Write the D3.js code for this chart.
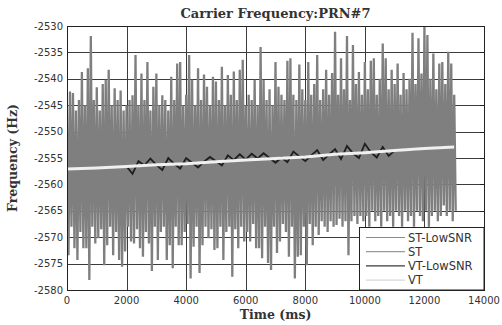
<!DOCTYPE html>
<html lang="en">
    <head>
        <title>Carrier Frequency PRN#7</title>
        <meta charset="utf-8">
        <script src="https://d3js.org/d3.v7.min.js"></script>
        <style>
            * {
                margin: 0;
                padding: 0;
            }
            body {
                background-color: white;
                width: 502px;
                height: 325px;
                overflow: hidden;
            }
        </style>
    </head>
    <body>
        <main></main>
        <script>

            // ticks
            const xTicks = [0, 2000, 4000, 6000, 8000, 10000, 12000, 14000];
            const yTicks = [-2580, -2575, -2570, -2565, -2560, -2555, -2550, -2545, -2540, -2535, -2530];

            // ST-LowSNR, read as upper / lower peak per 100 ms bin (0 .. 13000 ms)
            const stLowSnrHigh = [
                -2545, -2542.4, -2542.7, -2546, -2544, -2538.7, -2545, -2538, -2531.9, -2544,
                -2541.6, -2546, -2541, -2540.2, -2538.3, -2545, -2541.8, -2544, -2542.2, -2546,
                -2545, -2544, -2543.1, -2535.5, -2545, -2539, -2544, -2536.8, -2546, -2541.5,
                -2539, -2545, -2543.1, -2544, -2546, -2539.6, -2544, -2537.1, -2536.8, -2545,
                -2543, -2535.5, -2540.2, -2545, -2538, -2544, -2539.2, -2541.5, -2545, -2539.6,
                -2540.5, -2544, -2537.7, -2545, -2539.3, -2543, -2538.6, -2544, -2538.3, -2536.4,
                -2545, -2543, -2544, -2540.2, -2545, -2534, -2540.2, -2544, -2542, -2545,
                -2536.8, -2541.5, -2543, -2544, -2536.6, -2536.1, -2543, -2544, -2537.3, -2542,
                -2544, -2536.8, -2543, -2541, -2535.5, -2544, -2542, -2538.3, -2543, -2538.9,
                -2531.1, -2543, -2536.1, -2542, -2531.9, -2544, -2533.6, -2541, -2538.7, -2543,
                -2536.8, -2542, -2536.6, -2536.1, -2543, -2540, -2533.3, -2536.1, -2542, -2538.3,
                -2541, -2537.1, -2543, -2538.9, -2542, -2540, -2531.3, -2541, -2532.3, -2539,
                -2530.1, -2531.7, -2540, -2535.2, -2542, -2537.1, -2536.8, -2541, -2534.9, -2537.1,
                -2543
            ];
            const stLowSnrLow = [
                -2573.4, -2568, -2572.1, -2574.3, -2569, -2572.1, -2572.1, -2578.1, -2568, -2571.2,
                -2570.2, -2568.5, -2575.3, -2571.5, -2568, -2573.4, -2569, -2574.3, -2575.6, -2572.7,
                -2568, -2570.8, -2571.2, -2568.5, -2572.1, -2573.7, -2569, -2571.2, -2576.4, -2568,
                -2574.3, -2569, -2568, -2574.3, -2571.5, -2575.9, -2568, -2571.5, -2571.5, -2569,
                -2567.5, -2577.8, -2571.8, -2568, -2576.8, -2571.5, -2568, -2570.2, -2568.5, -2572.4,
                -2572.1, -2568, -2574.3, -2569, -2568, -2577.5, -2568.5, -2572.1, -2568, -2570.8,
                -2569, -2570.8, -2567.5, -2572.1, -2572.1, -2574, -2568, -2574.9, -2576.2, -2568,
                -2573, -2570.8, -2567.5, -2569, -2573.7, -2568, -2577.8, -2573.7, -2573.4, -2568,
                -2575.3, -2567.5, -2571.5, -2568, -2569.6, -2567, -2568, -2569, -2567, -2568,
                -2567.7, -2566.5, -2568, -2567, -2573.4, -2567, -2566, -2567.5, -2566, -2567,
                -2566, -2568, -2565, -2567, -2566, -2568, -2565, -2567, -2566, -2568,
                -2565, -2566, -2568, -2565, -2567, -2566, -2568, -2565, -2566, -2567,
                -2565, -2568, -2566, -2565, -2567, -2566, -2564, -2566, -2565, -2567,
                -2565
            ];

            // ST, every 500 ms
            const stValues = [
                -2557.0, -2556.6, -2557.2, -2556.5, -2556.9, -2556.2, -2556.8, -2556.0, -2556.5, -2555.8,
                -2556.3, -2555.6, -2556.0, -2555.3, -2555.8, -2555.1, -2555.5, -2554.8, -2555.2, -2554.4,
                -2554.9, -2554.0, -2554.5, -2553.7, -2553.9, -2553.2, -2553.4
            ];

            // VT-LowSNR, every 200 ms from 2000 ms
            const vtLowSnrValues = [
                -2556.6, -2558.0, -2555.6, -2556.4, -2555.1, -2556.3, -2557.3, -2555.0, -2556.1, -2557.0,
                -2555.0, -2555.9, -2556.8, -2555.7, -2554.8, -2555.6, -2556.4, -2554.5, -2555.4, -2554.3,
                -2555.3, -2554.2, -2555.1, -2554.1, -2555.0, -2555.9, -2554.9, -2555.8, -2553.8, -2554.7,
                -2555.6, -2554.5, -2553.5, -2555.4, -2554.3, -2553.3, -2555.2, -2552.7, -2554.1, -2555.0,
                -2552.3, -2553.9, -2554.9, -2552.9, -2554.6, -2553.6, -2553.5, -2553.4, -2553.4, -2553.3,
                -2553.2, -2553.1, -2553.1, -2553.0, -2552.9, -2552.9
            ];

            // VT, every 1000 ms
            const vtValues = [
                -2557.1, -2556.9, -2556.6, -2556.3, -2556.1, -2555.7, -2555.4, -2555.1, -2554.8, -2554.3,
                -2554.0, -2553.6, -2553.2, -2552.9
            ];

            const legendNames = ["ST-LowSNR", "ST", "VT-LowSNR", "VT"];
            const legendColors = ["#8a8a8a", "#9a9a9a", "#3a3a3a", "#d8d8d8"];

            const w = 502;
            const h = 325;
            const padLeft = 67, padRight = 484, padTop = 26, padBottom = 290;

            const xScale = d3.scaleLinear().domain([0, 14000]).range([padLeft, padRight]);
            const yScale = d3.scaleLinear().domain([-2580, -2530]).range([padBottom, padTop]);

            const svg = d3.select("main")
                .append("svg")
                .attr("width", w)
                .attr("height", h);

            svg.append("clipPath")
                .attr("id", "plot-clip")
                .append("rect")
                .attr("x", padLeft)
                .attr("y", padTop)
                .attr("width", padRight - padLeft)
                .attr("height", padBottom - padTop);

            // grid (under the data)
            const grid = svg.append("g")
                .attr("stroke", "#3c3c3c")
                .attr("stroke-width", 1);

            grid.selectAll("line.vgrid")
                .data(xTicks)
                .enter()
                .append("line")
                .attr("x1", d => Math.round(xScale(d)) + 0.5)
                .attr("x2", d => Math.round(xScale(d)) + 0.5)
                .attr("y1", padTop)
                .attr("y2", padBottom);

            grid.selectAll("line.hgrid")
                .data(yTicks)
                .enter()
                .append("line")
                .attr("x1", padLeft)
                .attr("x2", padRight)
                .attr("y1", d => Math.round(yScale(d)) + 0.5)
                .attr("y2", d => Math.round(yScale(d)) + 0.5);

            const plot = svg.append("g").attr("clip-path", "url(#plot-clip)");

            const line = d3.line()
                .x(d => xScale(d[0]))
                .y(d => yScale(d[1]));

            // ST-LowSNR: zig-zag between upper and lower peak of each bin
            const stLowPts = [];
            stLowSnrHigh.forEach((v, i) => {
                stLowPts.push([i * 100, v]);
                stLowPts.push([i * 100 + 50, stLowSnrLow[i]]);
            });

            plot.append("path")
                .datum(stLowPts)
                .attr("d", line)
                .attr("fill", "none")
                .attr("stroke", "#7f7f7f")
                .attr("stroke-width", 2.3)
                .attr("stroke-linejoin", "bevel");

            plot.append("path")
                .datum(stValues.map((v, i) => [i * 500, v]))
                .attr("d", line)
                .attr("fill", "none")
                .attr("stroke", "#7f7f7f")
                .attr("stroke-width", 1);

            plot.append("path")
                .datum(vtLowSnrValues.map((v, i) => [2000 + i * 200, v]))
                .attr("d", line)
                .attr("fill", "none")
                .attr("stroke", "#1e1e1e")
                .attr("stroke-width", 1.8);

            plot.append("path")
                .datum(vtValues.map((v, i) => [i * 1000, v]))
                .attr("d", line)
                .attr("fill", "none")
                .attr("stroke", "#f0f0f0")
                .attr("stroke-width", 3);

            // frame
            svg.append("rect")
                .attr("x", padLeft + 0.5)
                .attr("y", padTop + 0.5)
                .attr("width", padRight - padLeft)
                .attr("height", padBottom - padTop)
                .attr("fill", "none")
                .attr("stroke", "#222")
                .attr("stroke-width", 1);

            // inward ticks on the right side
            svg.selectAll("line.rtick")
                .data(yTicks)
                .enter()
                .append("line")
                .attr("x1", padRight - 4)
                .attr("x2", padRight)
                .attr("y1", d => Math.round(yScale(d)) + 0.5)
                .attr("y2", d => Math.round(yScale(d)) + 0.5)
                .attr("stroke", "#222");

            // tick labels
            svg.selectAll("text.ylab")
                .data(yTicks)
                .enter()
                .append("text")
                .attr("x", padLeft - 4)
                .attr("y", d => yScale(d) + 3.5)
                .attr("text-anchor", "end")
                .attr("font-family", "DejaVu Sans, sans-serif")
                .attr("font-size", "10px")
                .attr("fill", "#333")
                .text(d => d);

            svg.selectAll("text.xlab")
                .data(xTicks)
                .enter()
                .append("text")
                .attr("x", d => xScale(d))
                .attr("y", 304)
                .attr("text-anchor", "middle")
                .attr("font-family", "DejaVu Sans, sans-serif")
                .attr("font-size", "10px")
                .attr("fill", "#333")
                .text(d => d);

            // titles
            svg.append("text")
                .attr("x", (padLeft + padRight) / 2)
                .attr("y", 18)
                .attr("text-anchor", "middle")
                .attr("font-family", "DejaVu Serif, serif")
                .attr("font-weight", "bold")
                .attr("font-size", "13px")
                .attr("fill", "#333")
                .text("Carrier Frequency:PRN#7");

            svg.append("text")
                .attr("x", (padLeft + padRight) / 2)
                .attr("y", 319)
                .attr("text-anchor", "middle")
                .attr("font-family", "DejaVu Serif, serif")
                .attr("font-weight", "bold")
                .attr("font-size", "12.5px")
                .attr("fill", "#333")
                .text("Time (ms)");

            svg.append("text")
                .attr("x", -(padTop + padBottom) / 2)
                .attr("y", 17)
                .attr("transform", "rotate(-90)")
                .attr("text-anchor", "middle")
                .attr("font-family", "DejaVu Serif, serif")
                .attr("font-weight", "bold")
                .attr("font-size", "12.5px")
                .attr("fill", "#333")
                .text("Frequency (Hz)");

            // legend
            const legend = svg.append("g");

            legend.append("rect")
                .attr("x", 359.5)
                .attr("y", 227.5)
                .attr("width", padRight - 359.5)
                .attr("height", padBottom - 227.5)
                .attr("fill", "white")
                .attr("stroke", "#222");

            legend.selectAll("line")
                .data(legendNames)
                .enter()
                .append("line")
                .attr("x1", 366)
                .attr("x2", 405)
                .attr("y1", (d, i) => 237.5 + i * 14.2)
                .attr("y2", (d, i) => 237.5 + i * 14.2)
                .attr("stroke", (d, i) => legendColors[i])
                .attr("stroke-width", 1.2);

            legend.selectAll("text")
                .data(legendNames)
                .enter()
                .append("text")
                .attr("x", 408)
                .attr("y", (d, i) => 241.5 + i * 14.2)
                .attr("font-family", "DejaVu Sans, sans-serif")
                .attr("font-size", "11.5px")
                .attr("fill", "#333")
                .text(d => d);

        </script>
    </body>
</html>
